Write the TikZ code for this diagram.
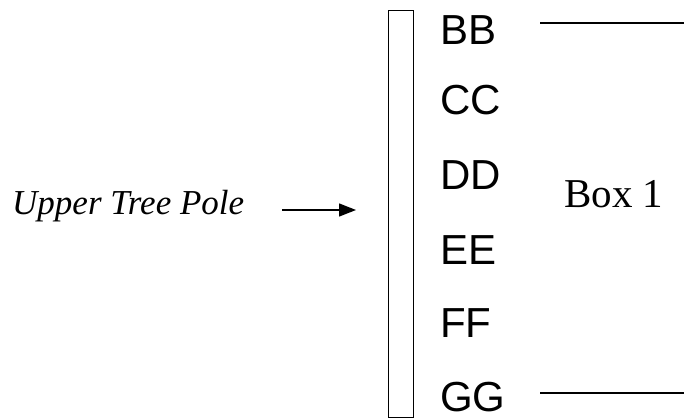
\documentclass[tikz,border=0pt]{standalone}
\usepackage{fontspec}
\setmainfont{Liberation Serif}
\newfontfamily\arialf{Liberation Sans}
\usetikzlibrary{arrows.meta}
\begin{document}
\begin{tikzpicture}[x=1pt,y=1pt,
  lbl/.style={font=\arialf\fontsize{42}{42}\selectfont, anchor=base west, inner sep=0pt},
  boxlbl/.style={font=\fontsize{41}{41}\selectfont, anchor=base west, inner sep=0pt},
  polelbl/.style={font=\itshape\fontsize{35}{35}\selectfont, anchor=base west, inner sep=0pt},
  rule/.style={line width=1.4pt},
  pole/.style={draw, line width=1pt}]
\useasboundingbox (0,0) rectangle (684,-419);
\fill[white] (0,0) rectangle (684,-419);
% pole
\node[pole, minimum width=25pt, minimum height=407pt, inner sep=0pt, anchor=north west] (p) at (388,-10) {};
% labels
\node[lbl] (bb) at (440,-45) {BB};
\node[lbl] (cc) at (440,-115) {CC};
\node[lbl] (dd) at (440,-190) {DD};
\node[lbl] (ee) at (440,-264) {EE};
\node[lbl] (ff) at (440,-337) {FF};
\node[lbl] (gg) at (440,-411) {GG};
\node[boxlbl] (box) at (564,-208) {Box 1};
\node[polelbl] (up) at (12,-215) {Upper Tree Pole};
% lines
\coordinate (b1) at (540,-23);
\coordinate (b2) at (684,-23);
\coordinate (g1) at (540,-393);
\coordinate (g2) at (684,-393);
\draw[rule] (b1) -- (b2);
\draw[rule] (g1) -- (g2);
% arrow
\coordinate (a1) at (282,-210);
\coordinate (a2) at (356,-210);
\draw[line width=1.4pt, -{Triangle[length=17pt,width=13pt]}] (a1) -- (a2);
\end{tikzpicture}
\end{document}
